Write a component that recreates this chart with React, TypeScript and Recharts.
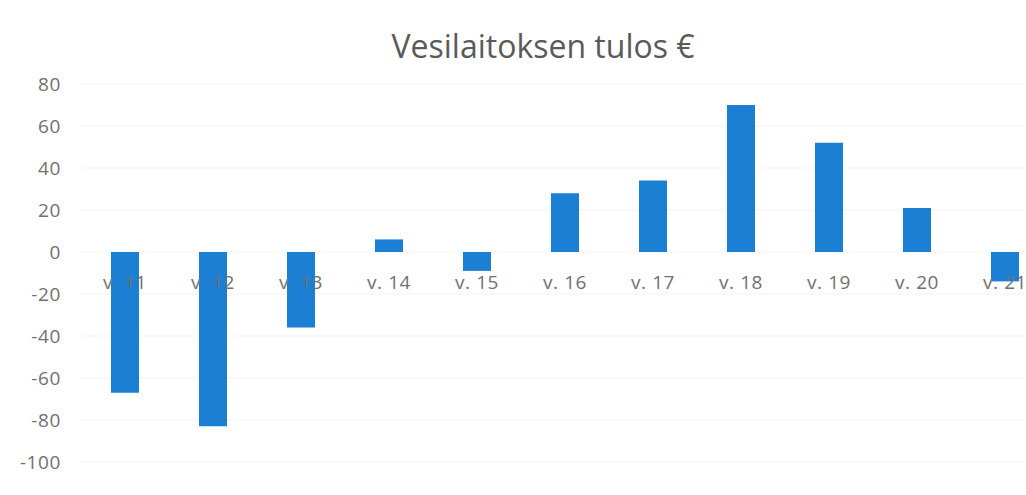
import { Bar, BarChart, CartesianGrid, XAxis, YAxis } from "recharts";

const weeks = ["v. 11", "v. 12", "v. 13", "v. 14", "v. 15", "v. 16", "v. 17", "v. 18", "v. 19", "v. 20", "v. 21"];
const result = [-67, -83, -36, 6, -9, 28, 34, 70, 52, 21, -14];
const yTicks = [-100, -80, -60, -40, -20, 0, 20, 40, 60, 80];

const data = weeks.map((w, i) => ({ week: w, value: result[i] }));

const W = 1049;
const H = 495;
const M = { top: 84, right: 0, bottom: 3, left: 0 };
const X_AXIS_H = 30;
const yMin = yTicks[0];
const yMax = yTicks[yTicks.length - 1];
const plotH = H - M.top - M.bottom - X_AXIS_H;
const zeroY = M.top + (plotH * (yMax - 0)) / (yMax - yMin);

const FONT = "'Open Sans', sans-serif";
const GREY = "#707070";

function WeekTick(props: any) {
  const { x, payload } = props;
  return (
    <text x={x} y={zeroY + 37} textAnchor="middle" fill={GREY} fontSize={19} letterSpacing={0.6} fontFamily={FONT}>
      {payload.value}
    </text>
  );
}

export default function App() {
  return (
    <div style={{ position: "fixed", left: 0, top: 0, width: 1026, height: 495, overflow: "hidden", background: "#fff" }}>
      <div
        style={{
          position: "absolute",
          left: 0,
          top: 26,
          width: 1086,
          textAlign: "center",
          fontFamily: FONT,
          fontSize: 32,
          lineHeight: "40px",
          color: "#5a5a5a",
        }}
      >
        Vesilaitoksen tulos €
      </div>
      <BarChart width={W} height={H} data={data} margin={M}>
        <CartesianGrid vertical={false} stroke="#f3f3f3" />
        <YAxis
          width={81}
          domain={[yMin, yMax]}
          ticks={yTicks}
          axisLine={false}
          tickLine={false}
          tickSize={0}
          tickMargin={20}
          tick={{ fill: GREY, fontSize: 19, fontFamily: FONT, letterSpacing: 0.6 }}
        />
        <Bar dataKey="value" fill="#1b7fd3" barSize={28} isAnimationActive={false} />
        <XAxis
          dataKey="week"
          height={X_AXIS_H}
          axisLine={false}
          tickLine={false}
          interval={0}
          tick={(p: any) => <WeekTick {...p} />}
        />
      </BarChart>
    </div>
  );
}
